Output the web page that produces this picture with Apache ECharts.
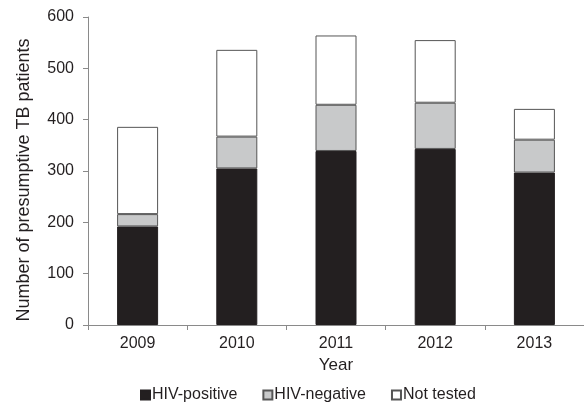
<!DOCTYPE html>
<html>
<head>
<meta charset="utf-8">
<script src="https://cdn.jsdelivr.net/npm/echarts@6/dist/echarts.min.js"></script>
<style>
html,body{margin:0;padding:0;background:#fff;}
#chart{width:584px;height:404px;}
</style>
</head>
<body>
<div id="chart"></div>
<script>
var years = ['2009', '2010', '2011', '2012', '2013'];
var hivPositive = [192, 305, 339, 343, 297];
var hivNegative = [24, 62, 90, 90, 64];
var notTested = [170, 169, 135, 122, 60];
var yTicks = [0, 100, 200, 300, 400, 500, 600];

var font = '"Liberation Sans", Arial, sans-serif';
var textColor = '#231f20';
var axisColor = '#8a8a8a';

var chart = echarts.init(document.getElementById('chart'), null, {renderer: 'canvas'});
chart.setOption({
  animation: false,
  backgroundColor: '#fff',
  textStyle: {fontFamily: font, color: textColor},
  grid: {left: 88, top: 17, bottom: 79, right: -9, containLabel: false},
  legend: {
    left: 135, top: 382,
    itemWidth: 9, itemHeight: 9, itemGap: 25,
    icon: 'rect',
    textStyle: {fontFamily: font, fontSize: 16, color: textColor, padding: [0, 0, 0, -3]},
    data: ['HIV-positive', 'HIV-negative', 'Not tested']
  },
  xAxis: {
    type: 'category',
    data: years,
    name: 'Year',
    nameLocation: 'middle',
    nameGap: 31,
    nameTextStyle: {fontFamily: font, fontSize: 17, color: textColor},
    axisLine: {show: true, lineStyle: {color: axisColor, width: 1}},
    axisTick: {show: true, alignWithLabel: false, length: 5, lineStyle: {color: axisColor}},
    axisLabel: {fontFamily: font, fontSize: 16, color: textColor, margin: 11}
  },
  yAxis: {
    type: 'value',
    min: yTicks[0], max: yTicks[yTicks.length - 1], interval: 100,
    name: 'Number of presumptive TB patients',
    nameLocation: 'middle',
    nameGap: 55,
    nameTextStyle: {fontFamily: font, fontSize: 18, color: textColor, padding: [0, 18, 0, 0]},
    splitLine: {show: false},
    axisLine: {show: true, lineStyle: {color: axisColor, width: 1}},
    axisTick: {show: true, length: 5, lineStyle: {color: axisColor}},
    axisLabel: {fontFamily: font, fontSize: 16, color: textColor, margin: 14}
  },
  series: [
    {
      name: 'HIV-positive', type: 'bar', stack: 'total', barWidth: 41,
      data: hivPositive,
      itemStyle: {color: '#231f20', borderColor: '#231f20', borderWidth: 1}
    },
    {
      name: 'HIV-negative', type: 'bar', stack: 'total', barWidth: 41,
      data: hivNegative,
      itemStyle: {color: '#c8c9ca', borderColor: '#555555', borderWidth: 1}
    },
    {
      name: 'Not tested', type: 'bar', stack: 'total', barWidth: 41,
      data: notTested,
      itemStyle: {color: '#ffffff', borderColor: '#555555', borderWidth: 1}
    }
  ]
});
</script>
</body>
</html>
